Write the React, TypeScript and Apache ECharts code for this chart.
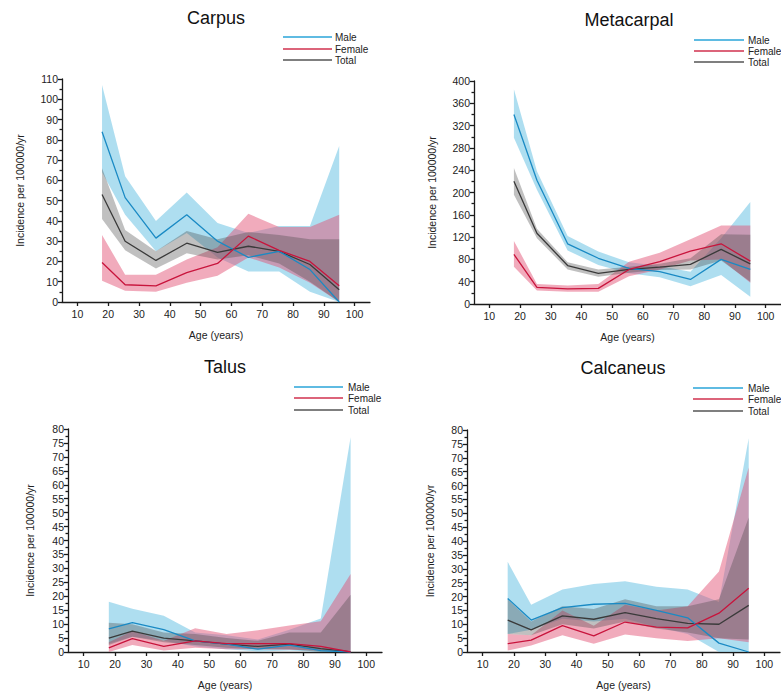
import React, { useEffect, useRef } from "react";
import * as echarts from "echarts";

const ages = [18, 25.5, 35.5, 45.5, 55.5, 65.5, 75.5, 85.5, 95];
const xTicks = [10, 20, 30, 40, 50, 60, 70, 80, 90, 100];
const panelTitles = ["Carpus", "Metacarpal", "Talus", "Calcaneus"];
const seriesNames = ["Male", "Female", "Total"];
const xAxisName = "Age (years)";
const yAxisName = "Incidence per 100000/yr";

// Carpus
const carpusMale = [84, 51.5, 31.5, 43, 30, 22, 25, 16, 0];
const carpusMaleUpper = [107, 62, 40, 54, 39, 34, 37.5, 37.5, 77];
const carpusMaleLower = [64, 43, 25, 34, 22, 15, 15, 5, 0];
const carpusFemale = [19.5, 8.5, 8, 14.5, 19, 32.5, 25.5, 20, 8];
const carpusFemaleUpper = [33, 13.5, 13.5, 21, 27, 43.5, 37, 37, 43];
const carpusFemaleLower = [10.5, 5.5, 5, 9.5, 13, 22, 17, 9.5, 0];
const carpusTotal = [53, 30, 20.5, 29, 24.5, 27.5, 25, 18.5, 6];
const carpusTotalUpper = [66, 35.5, 25, 35, 31, 34.5, 33, 31, 31];
const carpusTotalLower = [41, 25.5, 16.5, 24, 21, 23, 19, 10, 0];

// Metacarpal
const metaMale = [340, 222, 108, 82, 64, 58, 44, 80, 62];
const metaMaleUpper = [385, 238, 122, 94, 75, 68, 58, 118, 183];
const metaMaleLower = [298, 205, 96, 70, 55, 48, 32, 52, 13];
const metaFemale = [89, 30, 27, 28, 62, 76, 95, 108, 77];
const metaFemaleUpper = [113, 36, 33, 36, 76, 92, 116, 141, 141];
const metaFemaleLower = [67, 24, 22, 22, 50, 62, 78, 80, 38];
const metaTotal = [220, 127, 69, 55, 62, 66, 71, 98, 72];
const metaTotalUpper = [244, 135, 75, 62, 67, 72, 82, 125, 124];
const metaTotalLower = [196, 118, 62, 49, 56, 61, 62, 78, 40];

// Talus
const talusMale = [8.3, 10.5, 8, 4, 2.8, 1, 2.5, 0.5, 0];
const talusMaleUpper = [18, 15.5, 13, 7, 6, 4.5, 8, 12, 77];
const talusMaleLower = [3, 5.5, 4, 2, 1, 0.2, 0.5, 0, 0];
const talusFemale = [1.5, 4.8, 2, 4, 3, 3, 3, 2, 0];
const talusFemaleUpper = [3.5, 7.5, 4, 8.5, 6.5, 7.8, 9.5, 11, 28];
const talusFemaleLower = [0, 2.5, 0.5, 1.5, 1, 1, 0.8, 0.5, 0];
const talusTotal = [5, 7.5, 5, 4, 2.8, 2, 2.8, 1.2, 0];
const talusTotalUpper = [10.5, 10, 7, 6.5, 5, 4, 7, 7, 20.5];
const talusTotalLower = [2.5, 5.5, 3.5, 2.5, 1.5, 1, 1, 0, 0];

// Calcaneus
const calcMale = [19.3, 11.5, 16, 17.2, 17.5, 15, 12.3, 3.2, 0];
const calcMaleUpper = [32.5, 17, 22.5, 24.5, 25.5, 23.5, 22.5, 18, 77];
const calcMaleLower = [6.5, 8, 12, 11, 12, 9, 6.5, 0, 0];
const calcFemale = [3, 4.3, 9.5, 5.8, 10.8, 9, 8.7, 14, 23];
const calcFemaleUpper = [6.5, 6, 15, 9.5, 17, 15, 16.5, 29, 66.5];
const calcFemaleLower = [0.5, 2.3, 6, 3, 6.3, 5, 4, 5, 3.5];
const calcTotal = [11.5, 8, 13, 11.8, 14.2, 12, 10.3, 10, 16.8];
const calcTotalUpper = [19, 11, 16.5, 15.5, 19, 16.5, 16.5, 19, 48.5];
const calcTotalLower = [6.5, 6, 10, 8.5, 11, 8.5, 7, 5, 4.5];

const yMax = [110, 400, 80, 80];
const yInterval = [10, 40, 5, 5];

const lineColors = ["#1a8ac4", "#c8143c", "#3a3a3a"];
const legendColors = ["#2aa5d8", "#d0304e", "#555555"];
const bandColors = [
  "rgba(120,200,230,0.6)",
  "rgba(225,80,115,0.48)",
  "rgba(70,70,70,0.34)",
];

const FONT = "Liberation Sans, Arial, sans-serif";

export default function App() {
  const ref = useRef<HTMLDivElement>(null);

  useEffect(() => {
    if (!ref.current) return;
    const chart = echarts.init(ref.current, undefined, { renderer: "svg" });

    const panels = [
      {
        mid: [carpusMale, carpusFemale, carpusTotal],
        up: [carpusMaleUpper, carpusFemaleUpper, carpusTotalUpper],
        lo: [carpusMaleLower, carpusFemaleLower, carpusTotalLower],
      },
      {
        mid: [metaMale, metaFemale, metaTotal],
        up: [metaMaleUpper, metaFemaleUpper, metaTotalUpper],
        lo: [metaMaleLower, metaFemaleLower, metaTotalLower],
      },
      {
        mid: [talusMale, talusFemale, talusTotal],
        up: [talusMaleUpper, talusFemaleUpper, talusTotalUpper],
        lo: [talusMaleLower, talusFemaleLower, talusTotalLower],
      },
      {
        mid: [calcMale, calcFemale, calcTotal],
        up: [calcMaleUpper, calcFemaleUpper, calcTotalUpper],
        lo: [calcMaleLower, calcFemaleLower, calcTotalLower],
      },
    ];

    const grids = [
      { left: 62, top: 79, width: 308, height: 223 },
      { left: 474, top: 81, width: 310, height: 223 },
      { left: 68, top: 429, width: 314, height: 223 },
      { left: 467, top: 430, width: 313, height: 222 },
    ];
    const yNameGap = [37, 37, 33, 32];

    const titlePos = [
      [216, 18],
      [629, 20],
      [225, 367],
      [623, 368],
    ];
    const legendPos = [
      { x1: 283, x2: 332, tx: 335, rows: [37, 49, 60] },
      { x1: 694, x2: 744, tx: 748, rows: [40, 51, 62] },
      { x1: 294, x2: 343, tx: 348, rows: [387, 398, 410] },
      { x1: 693, x2: 743, tx: 748, rows: [388, 399, 411] },
    ];

    const axisLineStyle = { color: "#1a1a1a", width: 1.3 };

    const xAxes = grids.map((_, i) => ({
      type: "value",
      gridIndex: i,
      min: 5,
      max: 105,
      name: xAxisName,
      nameLocation: "middle",
      nameGap: 27,
      nameTextStyle: { fontFamily: FONT, fontSize: 10.5, color: "#222" },
      axisLine: { show: true, onZero: false, lineStyle: axisLineStyle },
      axisTick: {
        show: true,
        length: 4,
        customValues: xTicks,
        lineStyle: axisLineStyle,
      },
      axisLabel: {
        customValues: xTicks,
        fontFamily: FONT,
        fontSize: 10.5,
        color: "#222",
        margin: 6,
      },
      splitLine: { show: false },
    }));

    const yAxes = grids.map((_, i) => ({
      type: "value",
      gridIndex: i,
      min: 0,
      max: yMax[i],
      interval: yInterval[i],
      name: yAxisName,
      nameLocation: "middle",
      nameGap: yNameGap[i],
      nameTextStyle: { fontFamily: FONT, fontSize: 10.5, color: "#222" },
      axisLine: { show: true, onZero: false, lineStyle: axisLineStyle },
      axisTick: { show: true, length: 4, lineStyle: axisLineStyle },
      minorTick: { show: true, splitNumber: 2, length: 2.5, lineStyle: axisLineStyle },
      axisLabel: { fontFamily: FONT, fontSize: 10.5, color: "#222", margin: 4 },
      splitLine: { show: false },
      minorSplitLine: { show: false },
    }));

    const series: any[] = [];
    panels.forEach((p, i) => {
      for (let s = 0; s < 3; s++) {
        const upper = p.up[s];
        const lower = p.lo[s];
        const fill = bandColors[s];
        series.push({
          type: "custom",
          name: seriesNames[s] + " CI",
          xAxisIndex: i,
          yAxisIndex: i,
          silent: true,
          data: ages.map((a, k) => [a, upper[k]]),
          renderItem: (params: any, api: any) => {
            if (params.dataIndex !== 0) return null;
            const pts: number[][] = [];
            for (let k = 0; k < ages.length; k++) pts.push(api.coord([ages[k], upper[k]]));
            for (let k = ages.length - 1; k >= 0; k--) pts.push(api.coord([ages[k], lower[k]]));
            return { type: "polygon", shape: { points: pts }, style: { fill } };
          },
        });
      }
      [2, 0, 1].forEach((s) => {
        series.push({
          type: "line",
          name: seriesNames[s],
          xAxisIndex: i,
          yAxisIndex: i,
          symbol: "none",
          lineStyle: { color: lineColors[s], width: 1.3 },
          data: ages.map((a, k) => [a, p.mid[s][k]]),
        });
      });
    });

    const graphics: any[] = [];
    panelTitles.forEach((t, i) => {
      graphics.push({
        type: "text",
        x: titlePos[i][0],
        y: titlePos[i][1],
        style: {
          text: t,
          fontFamily: FONT,
          fontSize: 18,
          fontWeight: "normal",
          fill: "#111",
          align: "center",
          verticalAlign: "middle",
        },
      });
      const lp = legendPos[i];
      seriesNames.forEach((n, s) => {
        graphics.push({
          type: "line",
          shape: { x1: lp.x1, y1: lp.rows[s], x2: lp.x2, y2: lp.rows[s] },
          style: { stroke: legendColors[s], lineWidth: 1.6 },
        });
        graphics.push({
          type: "text",
          x: lp.tx,
          y: lp.rows[s],
          style: {
            text: n,
            fontFamily: FONT,
            fontSize: 10,
            fontWeight: "normal",
            fill: "#222",
            align: "left",
            verticalAlign: "middle",
          },
        });
      });
    });

    chart.setOption({
      animation: false,
      backgroundColor: "#ffffff",
      grid: grids.map((g) => ({ ...g, containLabel: false })),
      xAxis: xAxes,
      yAxis: yAxes,
      series,
      graphic: graphics,
    });

    return () => chart.dispose();
  }, []);

  return (
    <div
      ref={ref}
      style={{ width: 781, height: 694, position: "absolute", left: 0, top: 0 }}
    />
  );
}
